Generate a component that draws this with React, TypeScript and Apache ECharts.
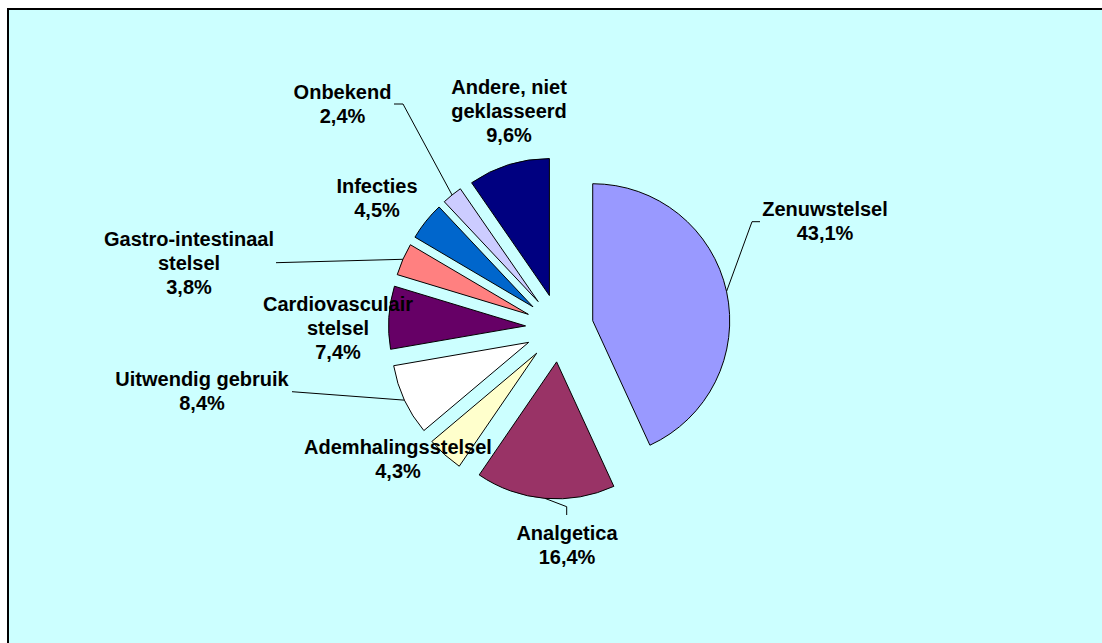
import React, { useEffect, useRef } from 'react';
import * as echarts from 'echarts';

// ---- data ----
const categories = [
  'Zenuwstelsel',
  'Analgetica',
  'Ademhalingsstelsel',
  'Uitwendig gebruik',
  'Cardiovasculair\nstelsel',
  'Gastro-intestinaal\nstelsel',
  'Infecties',
  'Onbekend',
  'Andere, niet\ngeklasseerd',
];
const values = [43.1, 16.4, 4.3, 8.4, 7.4, 3.8, 4.5, 2.4, 9.6];

// ---- styling / layout (not data) ----
const sliceColors = [
  '#9999FF',
  '#993366',
  '#FFFFCC',
  '#FFFFFF',
  '#660066',
  '#FF8080',
  '#0066CC',
  '#CCCCFF',
  '#000080',
];
const PIE_CENTER = [559.5, 328];
const PIE_RADIUS = 137;
const EXPLODE = 34;
// label block centres (px)
const labelAnchors: number[][] = [
  [825, 221],
  [567, 544.5],
  [398, 459],
  [202, 390.5],
  [338, 327.5],
  [189, 262.7],
  [377, 197.5],
  [342.5, 103.5],
  [509, 110.5],
];
// leader line waypoints after the slice point (null = no leader line)
const leaderPaths: (number[][] | null)[] = [
  [[752, 221.7], [760, 221.7]],
  [[566.7, 506.7], [566.7, 515]],
  null,
  [[292, 391.7], [292, 391.7]],
  null,
  [[276, 262.7], [276, 262.7]],
  null,
  [[403, 104], [394, 104]],
  null,
];

const FONT = 'Arial, "Liberation Sans", Helvetica, sans-serif';

const fmtPct = (v: number) => `${v.toFixed(1).replace('.', ',')}%`;

export default function App() {
  const ref = useRef<HTMLDivElement>(null);

  useEffect(() => {
    const chart = echarts.init(ref.current as HTMLDivElement, null, { renderer: 'svg' });
    const baseData = categories.map((name, i) => ({ name, value: values[i] }));
    chart.setOption({
      animation: false,
      backgroundColor: 'transparent',
      series: [
        // exploded slices
        {
          type: 'pie',
          center: PIE_CENTER,
          radius: PIE_RADIUS,
          startAngle: 90,
          clockwise: true,
          selectedMode: 'multiple',
          selectedOffset: EXPLODE,
          silent: true,
          emphasis: { disabled: true },
          itemStyle: { borderColor: '#000000', borderWidth: 1 },
          label: { show: false },
          labelLine: { show: false },
          data: baseData.map((d, i) => ({
            ...d,
            selected: true,
            itemStyle: { color: sliceColors[i] },
          })),
        },
        // labels + leader lines (transparent copy of the pie)
        {
          type: 'pie',
          center: PIE_CENTER,
          radius: PIE_RADIUS,
          startAngle: 90,
          clockwise: true,
          silent: true,
          z: 3,
          emphasis: { disabled: true },
          avoidLabelOverlap: false,
          itemStyle: { color: 'transparent', borderWidth: 0 },
          label: {
            show: true,
            position: 'outside',
            formatter: (p: any) => `${p.name}\n${fmtPct(Number(p.value))}`,
            fontFamily: FONT,
            fontWeight: 'bold',
            fontSize: 20,
            lineHeight: 24,
            color: '#000000',
            align: 'center',
          },
          labelLine: {
            show: true,
            length: 10,
            length2: 10,
            lineStyle: { color: '#000000', width: 1 },
          },
          labelLayout: (p: any) => {
            const i = p.dataIndex;
            const a = labelAnchors[i];
            const out: any = { x: a[0], y: a[1], align: 'center', verticalAlign: 'middle' };
            const path = leaderPaths[i];
            if (path && p.labelLinePoints) {
              const p0 = p.labelLinePoints[0];
              const vx = p0[0] - PIE_CENTER[0];
              const vy = p0[1] - PIE_CENTER[1];
              const len = Math.sqrt(vx * vx + vy * vy) || 1;
              const start = [p0[0] + (EXPLODE * vx) / len, p0[1] + (EXPLODE * vy) / len];
              out.labelLinePoints = [start, path[0], path[1]];
            }
            return out;
          },
          data: baseData.map((d, i) => ({
            ...d,
            labelLine: { show: leaderPaths[i] != null },
          })),
        },
      ],
    });
    return () => chart.dispose();
  }, []);

  return (
    <div style={{ position: 'fixed', left: 0, top: 0, width: 1102, height: 643, background: '#ffffff', overflow: 'hidden' }}>
      <div
        style={{
          position: 'absolute',
          left: 7,
          top: 8,
          width: 1095,
          height: 635,
          boxSizing: 'border-box',
          borderLeft: '2px solid #000000',
          borderTop: '2px solid #000000',
          background: '#CCFFFF',
        }}
      />
      <div ref={ref} style={{ position: 'absolute', left: 0, top: 0, width: 1102, height: 643 }} />
    </div>
  );
}
